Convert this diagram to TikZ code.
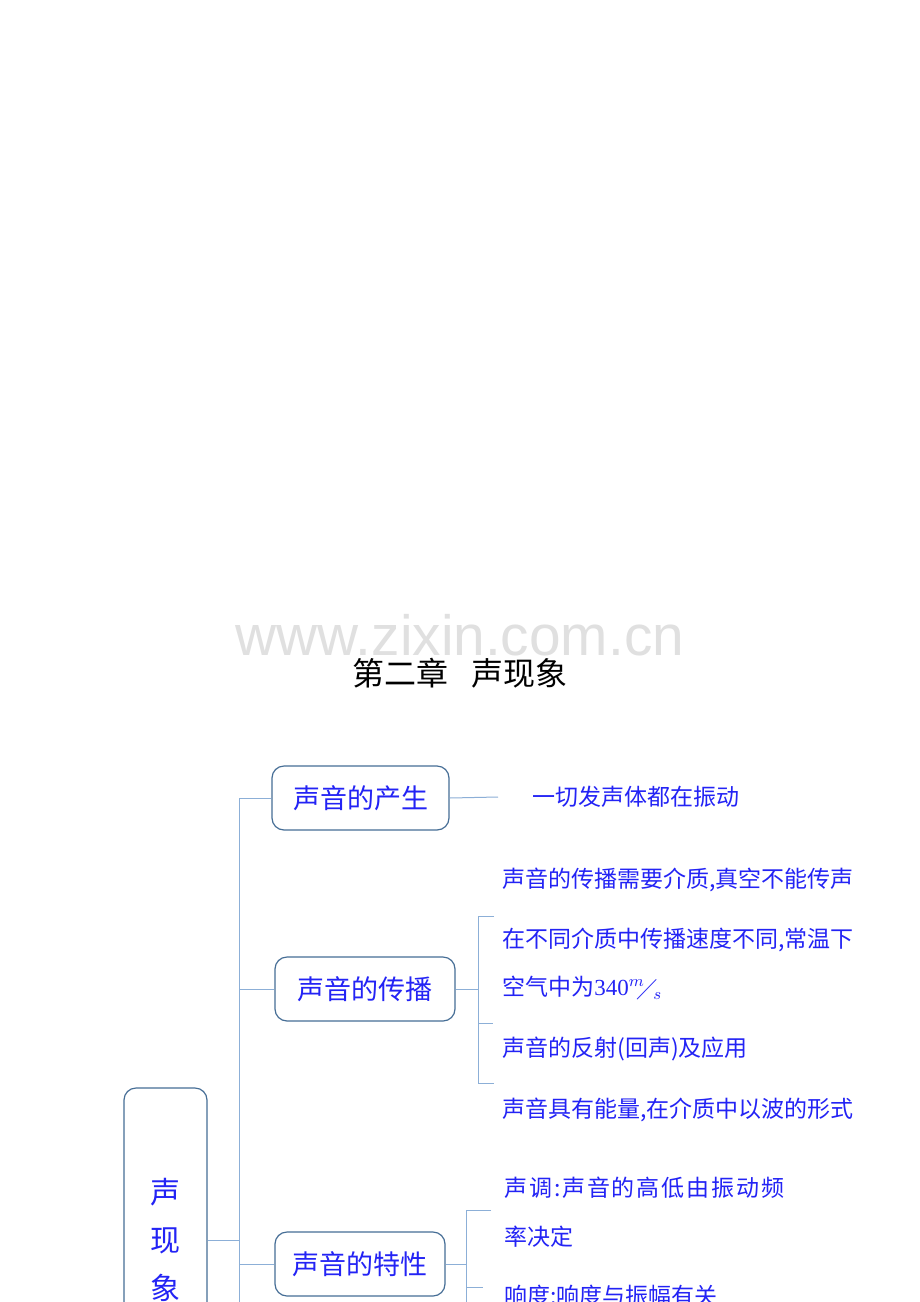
\documentclass[tikz,border=0pt]{standalone}
\usepackage{amssymb}
\usepackage{fontspec}
\setmainfont{Noto Sans CJK SC}
\newfontfamily\wmfont{Liberation Sans}
\newfontfamily\numfont{Liberation Serif}
\definecolor{txtblue}{RGB}{35,35,245}
\definecolor{boxline}{RGB}{70,110,150}
\definecolor{linkblue}{RGB}{140,175,215}
\begin{document}
\begin{tikzpicture}[x=0.5pt,y=-0.5pt,
    topic/.style={draw=boxline,line width=0.6pt,rounded corners=6pt,
      minimum height=32pt,inner sep=0pt,text=txtblue,font=\fontsize{13.5}{16}\selectfont},
    fact/.style={anchor=west,inner sep=0pt,text=txtblue,font=\fontsize{11.5}{13}\selectfont},
    link/.style={draw=linkblue,line width=0.5pt}]
  \clip (0,0) rectangle (920,1302);
  \fill[white] (0,0) rectangle (920,1302);

  % watermark and title
  \node[text=black!12,font=\wmfont\fontsize{28.4}{30}\selectfont] (mark) at (460,635) {www.zixin.com.cn};
  \node[font=\fontsize{16}{18}\selectfont] (title) at (460,673) {第二章\hspace{0.7em}声现象};

  % main box and topics
  \node[topic,minimum width=41.5pt,minimum height=152pt,align=center,
        font=\fontsize{15}{24}\selectfont] (root) at (165.5,1240) {声\\现\\象};
  \node[topic,minimum width=88.5pt] (birth) at (360.5,798) {声音的产生};
  \node[topic,minimum width=90pt] (spread) at (365,989) {声音的传播};
  \node[topic,minimum width=85pt] (trait) at (360,1264) {声音的特性};

  % trunk
  \coordinate (trunktop) at (239,798);
  \coordinate (trunkbot) at (239,1330);
  \draw[link] (trunktop) -- (trunkbot);
  \draw[link] (root.east) -- (root.east -| trunktop);
  \draw[link] (trunktop) -- (birth.west);
  \draw[link] (trunktop |- spread.west) -- (spread.west);
  \draw[link] (trunktop |- trait.west) -- (trait.west);

  % sound is made
  \coordinate (birthend) at (498,797);
  \draw[link] (birth.east) -- (birthend);
  \node[fact] (f1) at (532,797) {一切发声体都在振动};

  % sound travels
  \coordinate (br2) at (478,989);
  \draw[link] (spread.east) -- (br2);
  \draw[link] (494,916) -- (478,916) -- (478,1083) -- (494,1083);
  \draw[link] (478,1023) -- (493,1023);
  \node[fact] (f2) at (502,880) {声音的传播需要介质,真空不能传声};
  \node[fact] (f3) at (502,940) {在不同介质中传播速度不同,常温下};
  \node[fact] (f4) at (502,988) {空气中为{\numfont 340}$^{m}\!\!\diagup\!_{s}$};
  \node[fact] (f5) at (502,1049) {声音的反射(回声)及应用};
  \node[fact] (f6) at (502,1110) {声音具有能量,在介质中以波的形式};

  % sound traits
  \coordinate (br3) at (466,1264);
  \draw[link] (trait.east) -- (br3);
  \draw[link] (491,1210) -- (466,1210) -- (466,1330);
  \draw[link] (466,1287) -- (483,1287);
  \node[fact,font=\fontsize{11.5}{13}\selectfont\addfontfeatures{LetterSpace=8}] (f7) at (504,1188) {声调:声音的高低由振动频};
  \node[fact] (f8) at (504,1237) {率决定};
  \node[fact] (f9) at (504,1296) {响度:响度与振幅有关};
\end{tikzpicture}
\end{document}
